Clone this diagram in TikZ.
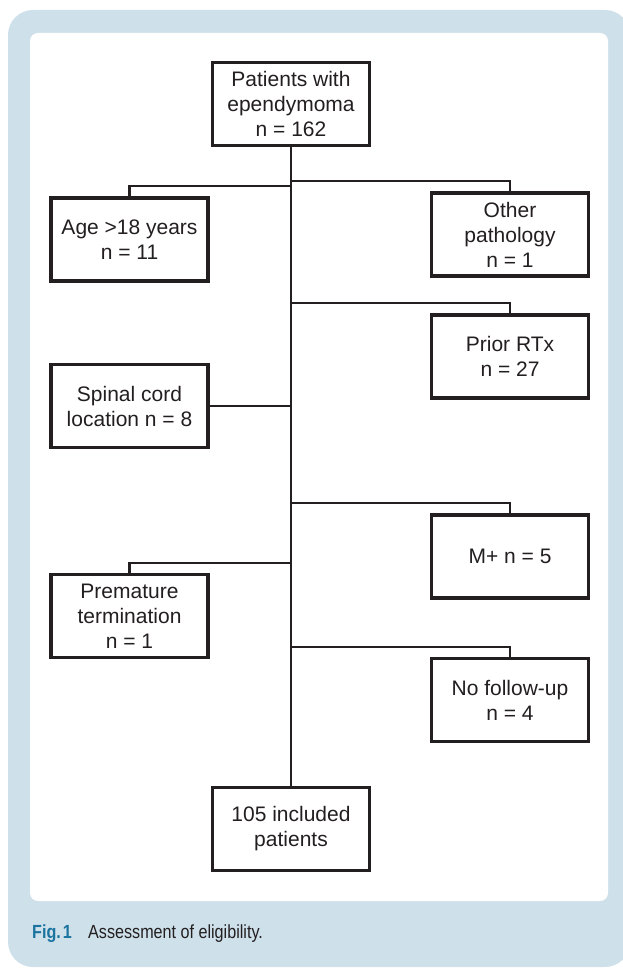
\documentclass[tikz,border=0pt]{standalone}
\usepackage{fontspec}
\setmainfont{Liberation Sans}
\newfontfamily\capfont[FakeStretch=0.85]{Liberation Sans}
\definecolor{panelblue}{HTML}{CEE0EA}
\definecolor{figblue}{HTML}{1B74A0}
\definecolor{ink}{HTML}{231F20}
\begin{document}
\begin{tikzpicture}[x=1pt,y=-1pt,
    box/.style={draw=ink, line width=3.2pt, minimum width=157pt, minimum height=83pt,
      align=center, inner sep=0pt, text=ink, font=\fontsize{21}{25}\selectfont},
    link/.style={draw=ink, line width=2.8pt}]
  \useasboundingbox (0,0) rectangle (623,968);
  \clip (0,0) rectangle (623,968);
  % panel
  \fill[panelblue, rounded corners=25pt] (8,10) rectangle (630,967);
  \fill[white, rounded corners=8pt] (30,33) rectangle (608,901);
  % boxes
  \node[box] (pat) at (291,104) {Patients with\\ependymoma\\n = 162};
  \node[box] (age) at (129.5,239.5) {Age >18 years\\n = 11};
  \node[box] (oth) at (510,234.5) {Other\\pathology\\n = 1};
  \node[box] (rtx) at (510,356.5) {Prior RTx\\n = 27};
  \node[box] (spc) at (129.5,406) {Spinal cord\\location n = 8};
  \node[box] (mpl) at (510,556.5) {M+ n = 5};
  \node[box] (pre) at (129.5,616) {Premature\\termination\\n = 1};
  \node[box] (nfu) at (510,700) {No follow-up\\n = 4};
  \node[box] (inc) at (291,829) {105 included\\patients};
  % trunk and branches
  \draw[link] (pat.south) -- (inc.north);
  \foreach \y/\b in {181/oth, 186/age, 303/rtx, 503/mpl, 563/pre, 647/nfu}
    \draw[link] (pat.south |- 0,\y) -| (\b.north);
  \draw[link] (spc.east) -- (spc.east -| pat.south);
  % caption
  \node[anchor=base west, inner sep=0pt, text=figblue,
    font=\capfont\bfseries\fontsize{19}{21}\selectfont] (fig) at (32,938) {Fig.\kern2pt 1};
  \node[anchor=base west, inner sep=0pt, text=ink,
    font=\capfont\fontsize{19}{21}\selectfont] (cap) at (88,938) {Assessment of eligibility.};
\end{tikzpicture}
\end{document}
